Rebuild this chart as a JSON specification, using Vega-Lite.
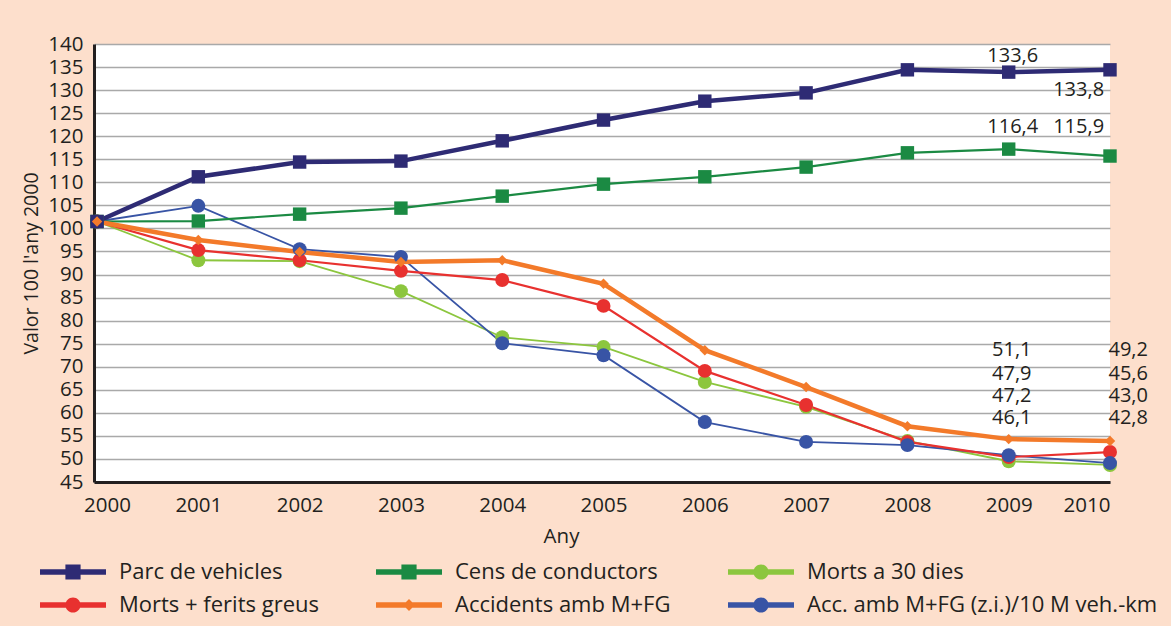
{
  "$schema": "https://vega.github.io/schema/vega-lite/v6.json",
  "width": 1016,
  "height": 438,
  "autosize": "none",
  "padding": {"left": 94, "top": 44, "right": 61, "bottom": 144},
  "background": "#fddfcc",
  "config": {
    "font": "Open Sans",
    "view": {"fill": "white", "stroke": null},
    "axis": {"labelColor": "#231f20", "titleColor": "#231f20", "titleFontWeight": "normal", "labelOverlap": false}
  },
  "datasets": {
    "series": [
      {"year": 2000, "series": "Morts a 30 dies", "value": 101.5},
      {"year": 2001, "series": "Morts a 30 dies", "value": 93.1},
      {"year": 2002, "series": "Morts a 30 dies", "value": 92.9},
      {"year": 2003, "series": "Morts a 30 dies", "value": 86.4},
      {"year": 2004, "series": "Morts a 30 dies", "value": 76.4},
      {"year": 2005, "series": "Morts a 30 dies", "value": 74.3},
      {"year": 2006, "series": "Morts a 30 dies", "value": 66.7},
      {"year": 2007, "series": "Morts a 30 dies", "value": 61.3},
      {"year": 2008, "series": "Morts a 30 dies", "value": 53.9},
      {"year": 2009, "series": "Morts a 30 dies", "value": 49.5},
      {"year": 2010, "series": "Morts a 30 dies", "value": 48.7},
      {"year": 2000, "series": "Morts + ferits greus", "value": 101.5},
      {"year": 2001, "series": "Morts + ferits greus", "value": 95.3},
      {"year": 2002, "series": "Morts + ferits greus", "value": 93.1},
      {"year": 2003, "series": "Morts + ferits greus", "value": 90.8},
      {"year": 2004, "series": "Morts + ferits greus", "value": 88.8},
      {"year": 2005, "series": "Morts + ferits greus", "value": 83.2},
      {"year": 2006, "series": "Morts + ferits greus", "value": 69.1},
      {"year": 2007, "series": "Morts + ferits greus", "value": 61.7},
      {"year": 2008, "series": "Morts + ferits greus", "value": 53.7},
      {"year": 2009, "series": "Morts + ferits greus", "value": 50.4},
      {"year": 2010, "series": "Morts + ferits greus", "value": 51.5},
      {"year": 2000, "series": "Accidents amb M+FG", "value": 101.5},
      {"year": 2001, "series": "Accidents amb M+FG", "value": 97.5},
      {"year": 2002, "series": "Accidents amb M+FG", "value": 94.9},
      {"year": 2003, "series": "Accidents amb M+FG", "value": 92.7},
      {"year": 2004, "series": "Accidents amb M+FG", "value": 93.1},
      {"year": 2005, "series": "Accidents amb M+FG", "value": 88.0},
      {"year": 2006, "series": "Accidents amb M+FG", "value": 73.6},
      {"year": 2007, "series": "Accidents amb M+FG", "value": 65.6},
      {"year": 2008, "series": "Accidents amb M+FG", "value": 57.1},
      {"year": 2009, "series": "Accidents amb M+FG", "value": 54.3},
      {"year": 2010, "series": "Accidents amb M+FG", "value": 53.9},
      {"year": 2000, "series": "Cens de conductors", "value": 101.5},
      {"year": 2001, "series": "Cens de conductors", "value": 101.6},
      {"year": 2002, "series": "Cens de conductors", "value": 103.1},
      {"year": 2003, "series": "Cens de conductors", "value": 104.4},
      {"year": 2004, "series": "Cens de conductors", "value": 107.0},
      {"year": 2005, "series": "Cens de conductors", "value": 109.6},
      {"year": 2006, "series": "Cens de conductors", "value": 111.2},
      {"year": 2007, "series": "Cens de conductors", "value": 113.3},
      {"year": 2008, "series": "Cens de conductors", "value": 116.4},
      {"year": 2009, "series": "Cens de conductors", "value": 117.2},
      {"year": 2010, "series": "Cens de conductors", "value": 115.7},
      {"year": 2000, "series": "Acc. amb M+FG (z.i.)/10 M veh.-km", "value": 101.5},
      {"year": 2001, "series": "Acc. amb M+FG (z.i.)/10 M veh.-km", "value": 104.9},
      {"year": 2002, "series": "Acc. amb M+FG (z.i.)/10 M veh.-km", "value": 95.5},
      {"year": 2003, "series": "Acc. amb M+FG (z.i.)/10 M veh.-km", "value": 93.8},
      {"year": 2004, "series": "Acc. amb M+FG (z.i.)/10 M veh.-km", "value": 75.1},
      {"year": 2005, "series": "Acc. amb M+FG (z.i.)/10 M veh.-km", "value": 72.5},
      {"year": 2006, "series": "Acc. amb M+FG (z.i.)/10 M veh.-km", "value": 58.0},
      {"year": 2007, "series": "Acc. amb M+FG (z.i.)/10 M veh.-km", "value": 53.7},
      {"year": 2008, "series": "Acc. amb M+FG (z.i.)/10 M veh.-km", "value": 53.0},
      {"year": 2009, "series": "Acc. amb M+FG (z.i.)/10 M veh.-km", "value": 50.8},
      {"year": 2010, "series": "Acc. amb M+FG (z.i.)/10 M veh.-km", "value": 49.1},
      {"year": 2000, "series": "Parc de vehicles", "value": 101.5},
      {"year": 2001, "series": "Parc de vehicles", "value": 111.2},
      {"year": 2002, "series": "Parc de vehicles", "value": 114.4},
      {"year": 2003, "series": "Parc de vehicles", "value": 114.6},
      {"year": 2004, "series": "Parc de vehicles", "value": 119.0},
      {"year": 2005, "series": "Parc de vehicles", "value": 123.5},
      {"year": 2006, "series": "Parc de vehicles", "value": 127.6},
      {"year": 2007, "series": "Parc de vehicles", "value": 129.4},
      {"year": 2008, "series": "Parc de vehicles", "value": 134.4},
      {"year": 2009, "series": "Parc de vehicles", "value": 133.9},
      {"year": 2010, "series": "Parc de vehicles", "value": 134.4}
    ],
    "labels": [
      {"year": 2009.04, "value": 137.4, "text": "133,6", "align": "center"},
      {"year": 2009.69, "value": 130.1, "text": "133,8", "align": "center"},
      {"year": 2009.04, "value": 122.0, "text": "116,4", "align": "center"},
      {"year": 2009.69, "value": 122.0, "text": "115,9", "align": "center"},
      {"year": 2009.03, "value": 73.6, "text": "51,1", "align": "center"},
      {"year": 2009.03, "value": 68.5, "text": "47,9", "align": "center"},
      {"year": 2009.03, "value": 63.6, "text": "47,2", "align": "center"},
      {"year": 2009.03, "value": 58.9, "text": "46,1", "align": "center"},
      {"year": 2010.18, "value": 73.6, "text": "49,2", "align": "left"},
      {"year": 2010.18, "value": 68.5, "text": "45,6", "align": "left"},
      {"year": 2010.18, "value": 63.6, "text": "43,0", "align": "left"},
      {"year": 2010.18, "value": 58.9, "text": "42,8", "align": "left"}
    ]
  },
  "encoding": {
    "x": {
      "field": "year", "type": "quantitative",
      "scale": {"domain": [1999.97, 2010], "nice": false, "zero": false},
      "axis": {
        "values": [2000, 2001, 2002, 2003, 2004, 2005, 2006, 2007, 2008, 2009, 2010],
        "format": "d", "title": "Any", "grid": false, "ticks": false, "labelOverlap": false,
        "labelOffset": {"condition": {"test": "datum.value === 2000", "value": 10}, "value": 0},
        "labelFontSize": 20.5, "labelPadding": 13, "titleFontSize": 20.5, "titlePadding": 11,
        "titleX": 467,
        "domainColor": "#231f20", "domainWidth": 3
      }
    },
    "y": {
      "field": "value", "type": "quantitative",
      "scale": {"domain": [45, 140], "nice": false, "zero": false},
      "axis": {
        "values": [45, 50, 55, 60, 65, 70, 75, 80, 85, 90, 95, 100, 105, 110, 115, 120, 125, 130, 135, 140],
        "title": "Valor 100 l'any 2000", "ticks": false, "labelOverlap": false,
        "labelFontSize": 20.5, "labelPadding": 11, "titleFontSize": 19.5, "titlePadding": 6,
        "gridColor": "#a9a9a9", "gridWidth": 1.5,
        "domainColor": "#231f20", "domainWidth": 3
      }
    },
    "color": {
      "field": "series", "type": "nominal",
      "scale": {
        "domain": ["Parc de vehicles", "Cens de conductors", "Morts a 30 dies", "Morts + ferits greus", "Accidents amb M+FG", "Acc. amb M+FG (z.i.)/10 M veh.-km"],
        "range": ["#2e2b74", "#1b8a43", "#8cc63e", "#e8312f", "#f37a2a", "#3854a5"]
      },
      "legend": {
        "title": null, "orient": "none", "legendX": -54, "legendY": 514,
        "columns": 3, "direction": "horizontal",
        "symbolType": {"expr": "(datum.value === 'Parc de vehicles' || datum.value === 'Cens de conductors') ? 'M-1,-0.085H1V0.085H-1Z M-0.23,-0.23H0.23V0.23H-0.23Z' : (datum.value === 'Accidents amb M+FG' ? 'M-1,-0.085H1V0.085H-1Z M0,-0.18L0.18,0L0,0.18L-0.18,0Z' : 'M-1,-0.085H1V0.085H-1Z M-0.23,0A0.23,0.23 0 0,1 0.23,0A0.23,0.23 0 0,1 -0.23,0Z')"},
        "symbolSize": 4356, "symbolStrokeWidth": 0, "symbolOpacity": 1,
        "clipHeight": 28, "rowPadding": 5, "columnPadding": 57,
        "labelFontSize": 22, "labelOffset": 13, "labelColor": "#231f20",
        "labelLimit": 500, "padding": 0
      }
    }
  },
  "layer": [
    {
      "data": {"name": "series"},
      "transform": [{"filter": {"field": "series", "oneOf": ["Morts a 30 dies", "Acc. amb M+FG (z.i.)/10 M veh.-km"]}}],
      "mark": {"type": "line", "strokeWidth": 1.8, "clip": false}
    },
    {
      "data": {"name": "series"},
      "transform": [{"filter": {"field": "series", "oneOf": ["Morts + ferits greus", "Cens de conductors"]}}],
      "mark": {"type": "line", "strokeWidth": 2.2, "clip": false}
    },
    {
      "data": {"name": "series"},
      "transform": [{"filter": {"field": "series", "oneOf": ["Accidents amb M+FG", "Parc de vehicles"]}}],
      "mark": {"type": "line", "strokeWidth": 4.5, "clip": false}
    },
    {
      "data": {"name": "series"},
      "transform": [{"filter": {"field": "series", "oneOf": ["Morts a 30 dies", "Morts + ferits greus", "Acc. amb M+FG (z.i.)/10 M veh.-km"]}}],
      "mark": {"type": "point", "shape": "circle", "size": 195, "filled": true, "opacity": 1, "clip": false}
    },
    {
      "data": {"name": "series"},
      "transform": [{"filter": {"field": "series", "oneOf": ["Parc de vehicles", "Cens de conductors"]}}],
      "mark": {"type": "point", "shape": "square", "size": 180, "filled": true, "opacity": 1, "clip": false}
    },
    {
      "data": {"name": "series"},
      "transform": [{"filter": {"field": "series", "equal": "Accidents amb M+FG"}}],
      "mark": {"type": "point", "shape": "diamond", "size": 110, "filled": true, "opacity": 1, "clip": false}
    },
    {
      "mark": {"type": "rule", "color": "#231f20", "strokeWidth": 3},
      "encoding": {"x": {"datum": 2010}, "y": null, "color": null}
    },
    {
      "data": {"name": "labels"},
      "mark": {"type": "text", "fontSize": 20, "color": "#231f20", "baseline": "middle", "clip": false},
      "encoding": {
        "text": {"field": "text"},
        "align": {"field": "align"},
        "color": null
      }
    }
  ]
}
